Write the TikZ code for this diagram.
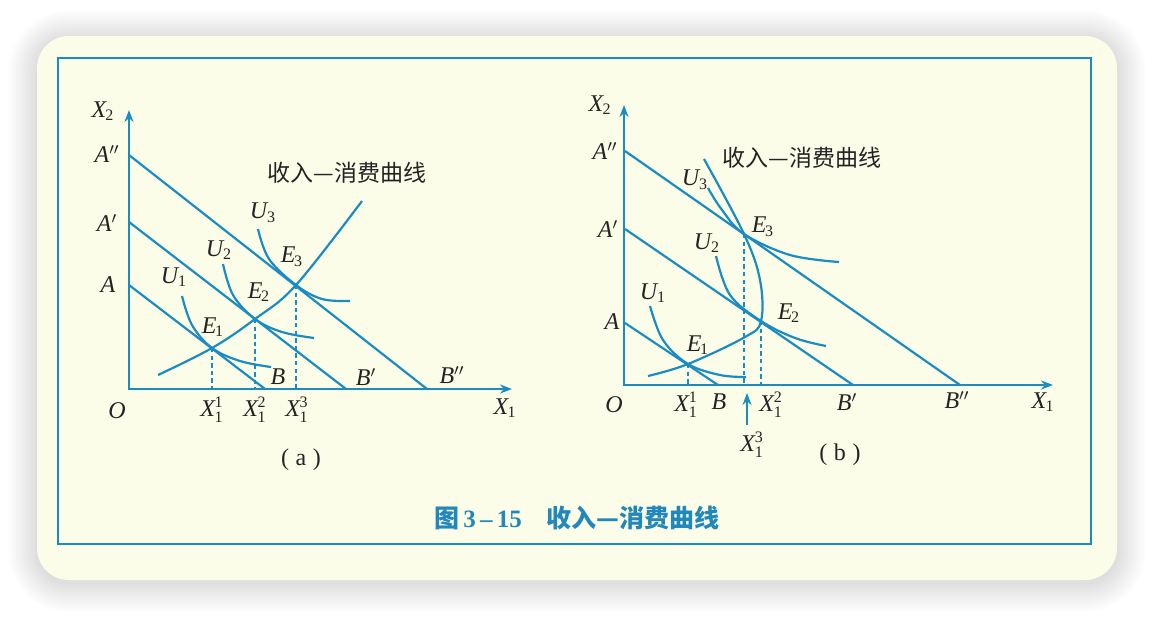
\documentclass[tikz,border=0pt]{standalone}
\usepackage{fontspec}
\usepackage{amsmath}
\setmainfont{Liberation Serif}
\newfontfamily\cjk{Noto Sans CJK SC}
\usetikzlibrary{arrows.meta}
\definecolor{lineblue}{HTML}{1B8CC2}
\definecolor{paper}{HTML}{FBFDE9}
\definecolor{ink}{HTML}{232323}
\definecolor{capblue}{HTML}{2287BA}
\newcommand{\Lsub}[2]{\textit{#1}\kern-0.06em$_{\text{#2}}$}
\newcommand{\Lss}[3]{\textit{#1}\kern-0.04em$^{\text{#3}}_{\text{#2}}$}
\tikzset{
  ln/.style={draw=lineblue, line width=1.1pt},
  dsh/.style={draw=lineblue, line width=0.7pt, dash pattern=on 2.2pt off 1.6pt},
  ax/.style={draw=lineblue, line width=1pt, {Stealth[length=6pt,width=4.5pt]}-{Stealth[length=6pt,width=4.5pt]}},
  arr/.style={draw=lineblue, line width=1pt, -{Stealth[length=6pt,width=4.5pt]}},
  lab/.style={text=ink, font=\fontsize{12}{14}\selectfont, inner sep=0pt},
  cn/.style={text=ink, font=\cjk\fontsize{11.5}{13}\selectfont, inner sep=0pt},
  captext/.style={text=capblue, font=\fontsize{12.5}{14}\selectfont\bfseries, inner sep=0pt},
  shadowlayer/.style={fill=black, fill opacity=0.009},
}
\begin{document}
\begin{tikzpicture}[x=0.5pt,y=-0.5pt]
\useasboundingbox (0,0) rectangle (1154,616);
\fill[white] (0,0) rectangle (1154,616);
% soft shadow of the card
\foreach \i in {1,...,16}{
  \pgfmathsetmacro{\d}{\i*1.8}
  \pgfmathsetmacro{\r}{16+\i*0.9}
  \fill[shadowlayer, rounded corners=\r pt] (37-\d,39-\d) rectangle (1117+\d,583+\d);
}
\fill[paper, rounded corners=16pt] (37,36) rectangle (1117,580);
\draw[lineblue, line width=1pt] (58,58) rectangle (1091,544);

% ---------------- panel a ----------------
\coordinate (aO) at (129,389);
\coordinate (aY) at (129,110);
\coordinate (aX) at (512,389);
\coordinate (aA) at (129,285);
\coordinate (aB) at (265,389);
\coordinate (aA1) at (129,222);
\coordinate (aB1) at (346,389);
\coordinate (aA2) at (129,155);
\coordinate (aB2) at (427,389);
\coordinate (aE1) at (212,348);
\coordinate (aE2) at (255,319);
\coordinate (aE3) at (296,285);

\draw[ax] (aY) |- (aX);
\draw[ln] (aA) -- (aB);
\draw[ln] (aA1) -- (aB1);
\draw[ln] (aA2) -- (aB2);
\draw[ln] plot[smooth, tension=0.6] coordinates {(158,375) (aE1) (aE2) (aE3) (362,201)};
\draw[ln] plot[smooth, tension=0.6] coordinates {(182,296) (192,325) (aE1) (240,361) (271,367)};
\draw[ln] plot[smooth, tension=0.6] coordinates {(223,264) (233,295) (aE2) (282,332) (314,338)};
\draw[ln] plot[smooth, tension=0.6] coordinates {(258,229) (269,259) (aE3) (322,299) (350,301)};
\draw[dsh] (aE1) -- (aE1 |- aO);
\draw[dsh] (aE2) -- (aE2 |- aO);
\draw[dsh] (aE3) -- (aE3 |- aO);

\node[lab] (aLX2) at (103,111) {\Lsub{X}{2}};
\node[lab] (aLA2) at (107,154) {\textit{A}$''$};
\node[lab] (aLA1) at (107,223) {\textit{A}$'$};
\node[lab] (aLA) at (108,285) {\textit{A}};
\node[lab] (aLU3) at (263,213) {\Lsub{U}{3}};
\node[lab] (aLU2) at (219,250) {\Lsub{U}{2}};
\node[lab] (aLU1) at (174,277) {\Lsub{U}{1}};
\node[lab] (aLE3) at (292,257) {\Lsub{E}{3}};
\node[lab] (aLE2) at (259,292) {\Lsub{E}{2}};
\node[lab] (aLE1) at (213,327) {\Lsub{E}{1}};
\node[lab] (aLB) at (278,377) {\textit{B}};
\node[lab] (aLB1) at (366,377) {\textit{B}$'$};
\node[lab] (aLB2) at (452,375) {\textit{B}$''$};
\node[lab] (aLO) at (117,411) {\textit{O}};
\node[lab] (aLX11) at (212,410) {\Lss{X}{1}{1}};
\node[lab] (aLX12) at (255,410) {\Lss{X}{1}{2}};
\node[lab] (aLX13) at (297,410) {\Lss{X}{1}{3}};
\node[lab] (aLX1) at (505,408) {\Lsub{X}{1}};
\node[cn] (aICC) at (347,173) {收入—消费曲线};
\node[lab] (aCap) at (301,460) {(\;a\;)};

% ---------------- panel b ----------------
\coordinate (bO) at (625,385);
\coordinate (bY) at (624,105);
\coordinate (bX) at (1053,385);
\coordinate (bA) at (625,323);
\coordinate (bB) at (718,385);
\coordinate (bA1) at (625,229);
\coordinate (bB1) at (853,385);
\coordinate (bA2) at (625,151);
\coordinate (bB2) at (960,385);
\coordinate (bE1) at (688,364);
\coordinate (bE2) at (761,321);
\coordinate (bE3) at (744,234);

\draw[ax] (bY) |- (bX);
\draw[ln] (bA) -- (bB);
\draw[ln] (bA1) -- (bB1);
\draw[ln] (bA2) -- (bB2);
\draw[ln] plot[smooth, tension=0.6] coordinates {(648,376) (bE1) (745,337) (bE2) (760,280) (bE3) (704,159)};
\draw[ln] plot[smooth, tension=0.6] coordinates {(650,306) (663,340) (bE1) (720,375) (746,377)};
\draw[ln] plot[smooth, tension=0.6] coordinates {(716,256) (730,295) (bE2) (795,338) (826,346)};
\draw[ln] plot[smooth, tension=0.6] coordinates {(708,188) (722,210) (bE3) (790,255) (839,262)};
\draw[dsh] (bE1) -- (bE1 |- bO);
\draw[dsh] (bE3) -- (bE3 |- bO);
\draw[dsh] (bE2) -- (bE2 |- bO);

\node[lab] (bLX2) at (600,105) {\Lsub{X}{2}};
\node[lab] (bLA2) at (605,151) {\textit{A}$''$};
\node[lab] (bLA1) at (608,229) {\textit{A}$'$};
\node[lab] (bLA) at (612,322) {\textit{A}};
\node[cn] (bICC) at (802,158) {收入—消费曲线};
\node[lab] (bLU3) at (695,180) {\Lsub{U}{3}};
\node[lab] (bLU2) at (707,243) {\Lsub{U}{2}};
\node[lab] (bLU1) at (653,293) {\Lsub{U}{1}};
\node[lab] (bLE3) at (763,227) {\Lsub{E}{3}};
\node[lab] (bLE2) at (789,313) {\Lsub{E}{2}};
\node[lab] (bLE1) at (698,345) {\Lsub{E}{1}};
\node[lab] (bLO) at (614,405) {\textit{O}};
\node[lab] (bLX11) at (686,405) {\Lss{X}{1}{1}};
\node[lab] (bLB) at (719,402) {\textit{B}};
\node[lab] (bLX12) at (771,405) {\Lss{X}{1}{2}};
\node[lab] (bLB1) at (847,402) {\textit{B}$'$};
\node[lab] (bLB2) at (957,400) {\textit{B}$''$};
\node[lab] (bLX1) at (1043,402) {\Lsub{X}{1}};
\node[lab] (bLX13) at (752,445) {\Lss{X}{1}{3}};
\coordinate (bArrS) at (747,425);
\coordinate (bArrT) at (747,393);
\draw[arr] (bArrS) -- (bArrT);
\node[lab] (bCap) at (840,455) {(\;b\;)};

% ---------------- caption ----------------
\node[captext] (caption) at (577,518) {{\cjk 图}\,3\,–\,15\quad{\cjk 收入—消费曲线}};
\end{tikzpicture}
\end{document}
